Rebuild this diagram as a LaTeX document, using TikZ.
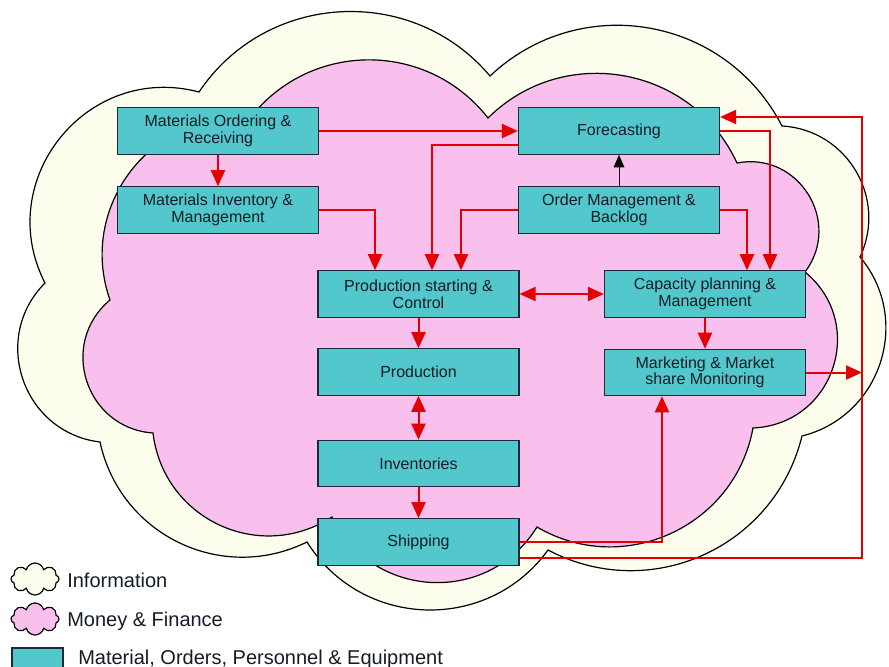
\documentclass[tikz,border=0pt]{standalone}
\usepackage{fontspec}
\setmainfont{Liberation Sans}
\usetikzlibrary{arrows.meta,shapes.symbols}
\definecolor{cream}{RGB}{253,253,238}
\definecolor{cloudpink}{RGB}{249,192,238}
\definecolor{boxteal}{RGB}{82,200,204}
\definecolor{boxline}{RGB}{30,40,55}
\definecolor{flowred}{RGB}{228,0,0}
\definecolor{inktext}{RGB}{20,28,40}

\begin{document}
\begin{tikzpicture}[x=0.75pt,y=-0.75pt,
  outline/.style={draw=black,line width=0.9pt,line join=miter},
  box/.style={draw=boxline,fill=boxteal,line width=0.9pt,minimum width=150.75pt,
    minimum height=34.75pt,inner sep=0pt,align=center,text=inktext,
    font=\fontsize{12}{12.5}\selectfont},
  flow/.style={draw=flowred,line width=1.5pt,-{Triangle[length=12pt,width=10.5pt]}},
  twoway/.style={draw=flowred,line width=1.5pt,
    {Triangle[length=12pt,width=10.5pt]}-{Triangle[length=12pt,width=10.5pt]}},
  infoflow/.style={draw=black,line width=0.75pt,-{Triangle[length=9.5pt,width=8pt]}},
  keytext/.style={anchor=west,inner sep=0pt,text=inktext,font=\fontsize{15}{18}\selectfont},
  keycloud/.style={cloud,cloud puffs=8,aspect=1.5,outline,minimum width=36pt,
    minimum height=24pt,inner sep=0pt},
  lobe/.style 2 args={bend left=#1,looseness=#2}
]
\useasboundingbox (0,0) rectangle (889,667);

% information cloud (outer): one circular lobe between each pair of cusps
\path[outline,fill=cream]
  (199,92) to[lobe={53}{1.06}] (490,76)
           to[lobe={53}{1.07}] (782,126)
           to[lobe={56}{1.09}] (860,257)
           to[lobe={58}{1.11}] (802,436)
           to[lobe={52}{1.06}] (548,550)
           to[lobe={56}{1.09}] (307,542)
           to[lobe={52}{1.06}] (100,442)
           to[lobe={64}{1.18}] (45,283)
           to[lobe={66}{1.21}] (199,92) -- cycle;

% money & finance cloud (inner)
\path[outline,fill=cloudpink]
  (110,300) to[lobe={57}{1.10}] (250,118)
            to[lobe={52}{1.06}] (488,118)
            to[lobe={55}{1.08}] (737,163)
            to[lobe={69}{1.25}] (805,272)
            to[lobe={69}{1.26}] (753,428)
            to[lobe={55}{1.08}] (537,527)
            to[lobe={61}{1.15}] (332,517)
            to[lobe={58}{1.12}] (153,433)
            to[lobe={68}{1.24}] (110,300) -- cycle;

% process boxes
\node[box] (mor)  at (218,131)   {Materials Ordering \&\\Receiving};
\node[box] (mim)  at (218,210)   {Materials Inventory \&\\Management};
\node[box] (fc)   at (619,131)   {Forecasting};
\node[box] (om)   at (619,210)   {Order Management \&\\Backlog};
\node[box] (psc)  at (418.5,294) {Production starting \&\\Control};
\node[box] (cap)  at (705,294)   {Capacity planning \&\\Management};
\node[box] (prod) at (418.5,372) {Production};
\node[box] (mkt)  at (705,372.5) {Marketing \& Market\\share Monitoring};
\node[box] (inv)  at (418.5,463.5) {Inventories};
\node[box] (ship) at (418.5,542) {Shipping};

% return rail on the right
\coordinate (rail) at (862,117);

% flows
\draw[flow] (mor.east) -- (fc.west);
\draw[flow] (mor.south) -- (mim.north);
\draw[flow] ([yshift=-10.5pt]fc.west) -| ([xshift=10.1pt]psc.north);
\draw[flow] (mim.east) -| ([xshift=-32.6pt]psc.north);
\draw[flow] (om.west) -| ([xshift=31.9pt]psc.north);
\draw[infoflow] (om.north) -- (fc.south);
\draw[flow] (om.east) -| ([xshift=31.5pt]cap.north);
\draw[flow] (fc.east) -| ([xshift=48.75pt]cap.north);
\draw[twoway] (psc.east) -- (cap.west);
\draw[flow] (psc.south) -- (prod.north);
\draw[flow] (cap.south) -- (mkt.north);
\draw[twoway] (prod.south) -- (inv.north);
\draw[flow] (inv.south) -- (ship.north);
\draw[flow] (mkt.east) -- (mkt.east -| rail);
\draw[flow] (ship.east) -| ([xshift=-32.25pt]mkt.south);
\draw[flow] ([yshift=-12pt]ship.east) -| (rail) -- (rail -| fc.east);

% key
\node[keycloud,fill=cream] (infoKey) at (35,579) {};
\node[keytext] (infoLabel) at (67,580) {Information};
\node[keycloud,fill=cloudpink] (moneyKey) at (35,619) {};
\node[keytext] (moneyLabel) at (67,621) {Money \& Finance};
\node[draw=boxline,fill=boxteal,line width=0.9pt,minimum width=38.25pt,
  minimum height=21pt,inner sep=0pt] (matKey) at (37.5,662) {};
\node[keytext] (matLabel) at (78,659) {Material, Orders, Personnel \& Equipment};
\end{tikzpicture}
\end{document}
